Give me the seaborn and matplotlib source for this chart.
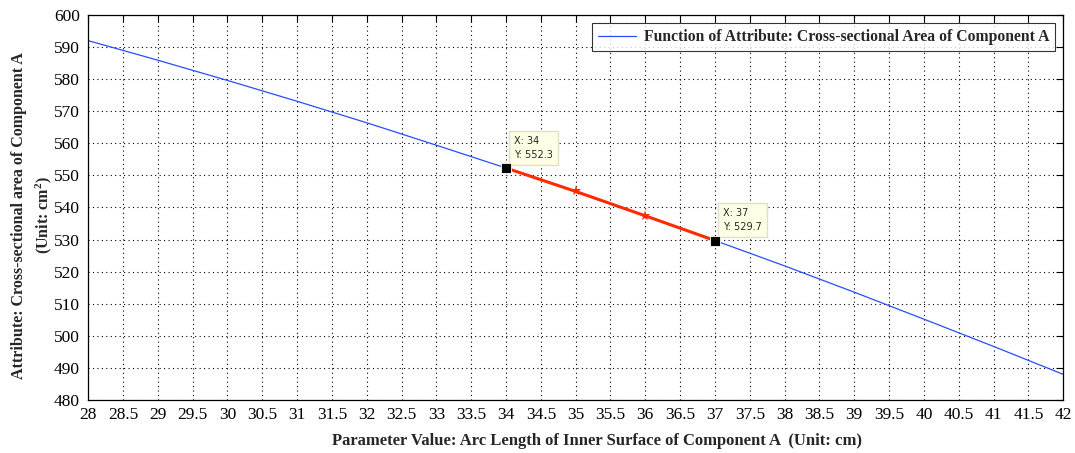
import numpy as np
import pandas as pd
import matplotlib
matplotlib.use("Agg")
import matplotlib.pyplot as plt
import matplotlib.ticker as mticker
import seaborn as sns

# ─── Data ─────────────────────────────────────────────────────────────────────
arc_len = [28, 29, 30, 31, 32, 33, 34, 35, 36, 37, 38, 39, 40, 41, 42]
area = [592.0, 585.9, 579.6, 573.1, 566.4, 559.4, 552.3, 545.0, 537.4,
        529.7, 521.8, 513.6, 505.2, 496.7, 488.0]

sel_x = [34, 35, 36, 37]
sel_y = [552.3, 545.0, 537.4, 529.7]

tip_x = [34, 37]
tip_y = [552.3, 529.7]

x_ticks = np.arange(28, 42.01, 0.5)
y_ticks = np.arange(480, 600.1, 10)

# ─── Plot ─────────────────────────────────────────────────────────────────────
sns.set_style("white")
plt.rcParams["font.family"] = ["Liberation Serif", "DejaVu Serif"]
plt.rcParams["mathtext.fontset"] = "custom"
plt.rcParams["mathtext.rm"] = "Liberation Serif:bold"
plt.rcParams["mathtext.it"] = "Liberation Serif:bold"
plt.rcParams["mathtext.bf"] = "Liberation Serif:bold"

fig, ax = plt.subplots(figsize=(10.75, 4.53), dpi=100)
fig.subplots_adjust(left=0.082, right=0.989, top=0.967, bottom=0.117)

df = pd.DataFrame({"x": arc_len, "y": area})
sns.lineplot(data=df, x="x", y="y", ax=ax, color="#2b4cff", linewidth=0.9,
             label="Function of Attribute: Cross-sectional Area of Component A")

# highlighted interval between the two data tips
sel = pd.DataFrame({"x": sel_x, "y": sel_y})
sns.lineplot(data=sel, x="x", y="y", ax=ax, color="#ff2a00", linewidth=2.2,
             marker="*", markersize=8, markeredgewidth=0, legend=False)

tips = pd.DataFrame({"x": tip_x, "y": tip_y})
sns.scatterplot(data=tips, x="x", y="y", ax=ax, color="black", marker="s",
                s=45, edgecolor="white", linewidth=0.6, zorder=5, legend=False)

for tx, ty in zip(tip_x, tip_y):
    ax.annotate(f"X: {tx}\nY: {ty}", xy=(tx, ty), xytext=(6, 6),
                textcoords="offset points", ha="left", va="bottom",
                fontsize=7, family="DejaVu Sans", linespacing=1.5,
                bbox=dict(boxstyle="square,pad=0.5", fc="#ffffe6", ec="#e0e0c8", lw=1))

ax.set_xlim(28, 42)
ax.set_ylim(480, 600)
ax.set_xticks(x_ticks)
ax.set_yticks(y_ticks)
ax.xaxis.set_major_formatter(mticker.FormatStrFormatter("%g"))
ax.yaxis.set_major_formatter(mticker.FormatStrFormatter("%g"))
ax.tick_params(direction="in", length=5, width=0.8, top=True, right=True,
               labelsize=12.5, colors="black")
ax.tick_params(axis="x", pad=5)
ax.tick_params(axis="y", pad=6)
ax.grid(True, linestyle=(0, (1, 3)), color="black", linewidth=0.8)
for sp in ax.spines.values():
    sp.set_color("black")
    sp.set_linewidth(0.9)

ax.set_xlabel("Parameter Value: Arc Length of Inner Surface of Component A  (Unit: cm)",
              fontsize=12, fontweight="bold")
ax.xaxis.set_label_coords(0.522, -0.085)
ax.set_ylabel("Attribute: Cross-sectional area of Component A\n(Unit: cm$^{2}$)",
              fontsize=11.5, fontweight="bold", linespacing=1.45)
ax.yaxis.set_label_coords(-0.035, 0.48)

leg = ax.legend(loc="upper right", fontsize=11.3, frameon=True, fancybox=False,
                edgecolor="black", borderaxespad=0.5, handlelength=2.4,
                handletextpad=0.5)
leg.get_frame().set_linewidth(0.8)
for t in leg.get_texts():
    t.set_fontweight("bold")

fig.savefig("out.png", dpi=100)
